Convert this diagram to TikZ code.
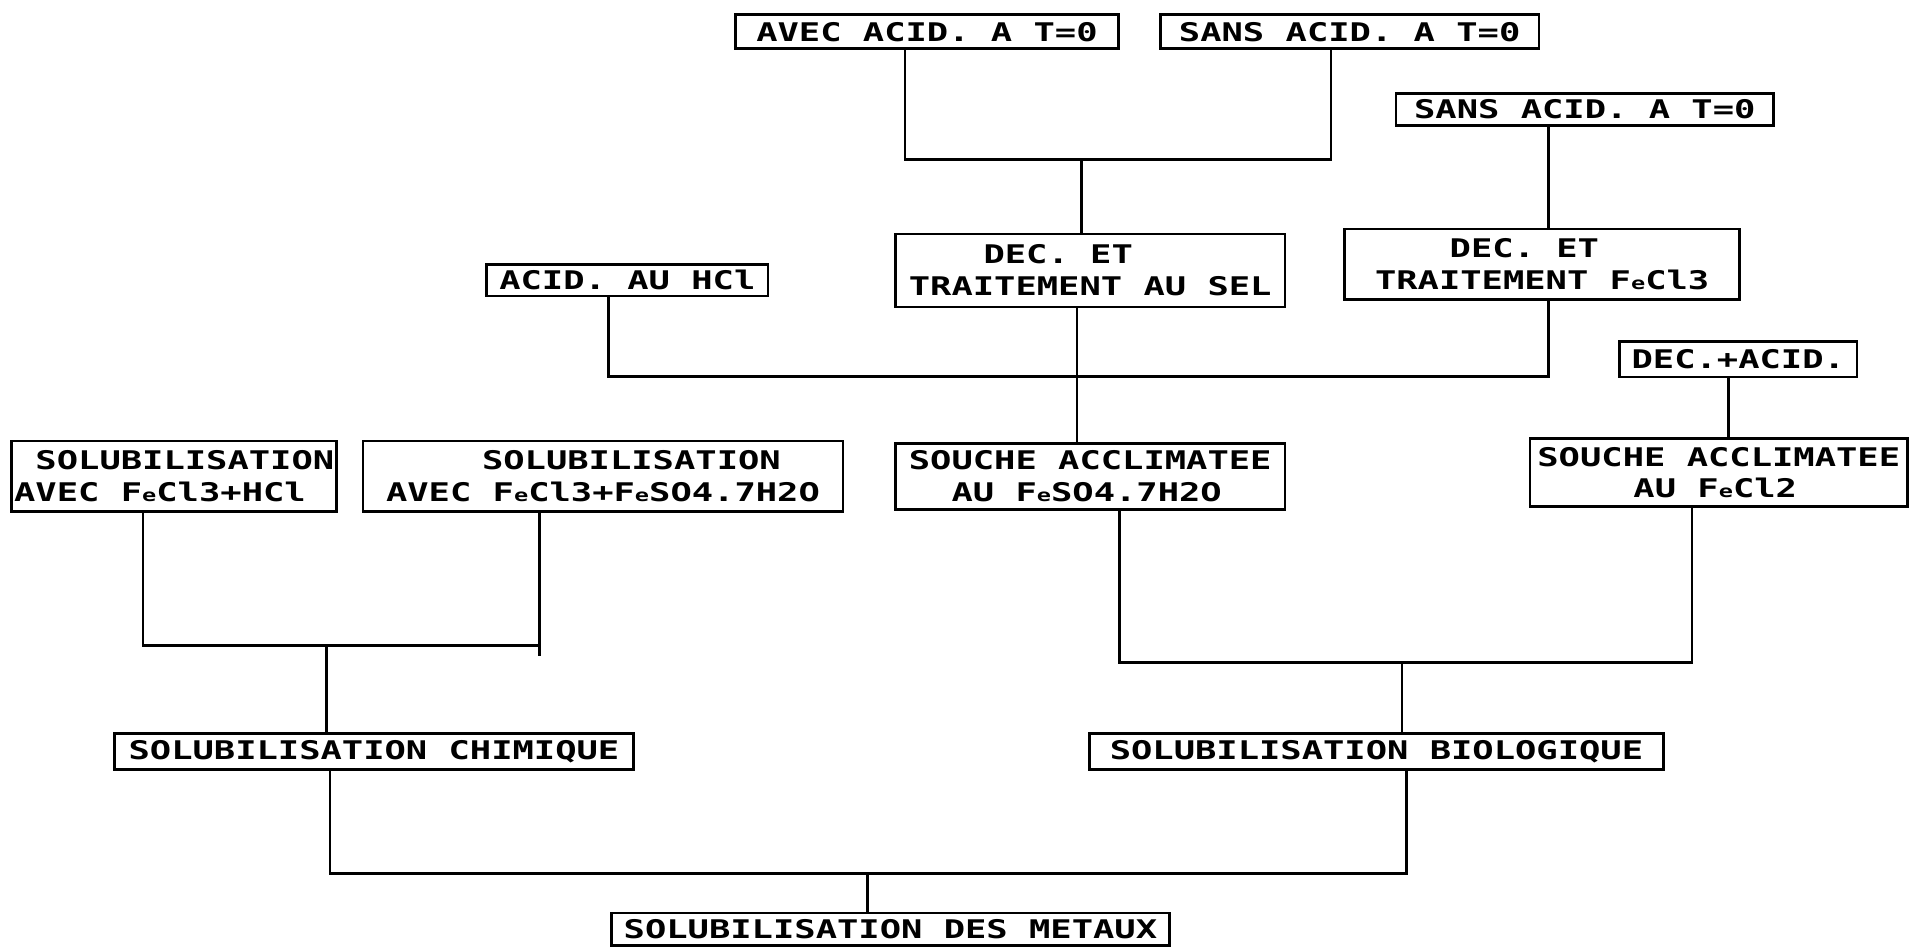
\documentclass[tikz,border=0pt]{standalone}
\usepackage{fontspec}
\newfontfamily\plotfont[FakeStretch=1.38]{DejaVu Sans Mono}
\newcommand\fs{\plotfont\bfseries\fontsize{12}{14.8}\selectfont}
\newlength\cw
\AtBeginDocument{\settowidth\cw{\fs M}}
\newcommand\ind[1]{\hspace*{#1\cw}}
\newcommand\Fe{F{\footnotesize e}}

\begin{document}
\begin{tikzpicture}[x=0.02cm, y=-0.02cm,
    box/.style={draw, line width=1.3pt, inner sep=0pt, font=\fs, align=left},
    link/.style={line width=1.2pt}]
  \useasboundingbox[fill=white] (0,0) rectangle (1568,778);
  % starting states of the sludge
  \node[box, minimum width=6.28cm, minimum height=0.56cm] (avec)  at (761,26)  {AVEC ACID. A T=0};
  \node[box, minimum width=6.22cm, minimum height=0.56cm] (sans1) at (1108,26) {SANS ACID. A T=0};
  \node[box, minimum width=6.2cm,  minimum height=0.52cm] (sans2) at (1301,90) {SANS ACID. A T=0};
  % pre-treatments
  \node[box, minimum width=6.4cm,  minimum height=1.2cm]  (decsel)  at (895,222)  {\ind{3.5}DEC. ET\\TRAITEMENT AU SEL};
  \node[box, minimum width=6.48cm, minimum height=1.16cm] (decfe)   at (1266,217) {\ind{3.5}DEC. ET\\TRAITEMENT \Fe Cl3};
  \node[box, minimum width=4.62cm, minimum height=0.52cm] (acidhcl) at (515,230)  {ACID. AU HCl};
  \node[box, minimum width=3.9cm,  minimum height=0.58cm] (decacid) at (1427,295) {DEC.+ACID.};
  % the four ways
  \node[box, minimum width=5.34cm, minimum height=1.16cm] (solhcl)  at (143,391)  {\ind{1}SOLUBILISATION\\AVEC \Fe Cl3+HCl};
  \node[box, minimum width=7.88cm, minimum height=1.16cm] (solfeso) at (495,391)  {\ind{4.5}SOLUBILISATION\\AVEC \Fe Cl3+\Fe SO4.7H2O};
  \node[box, minimum width=6.4cm,  minimum height=1.08cm] (soufeso) at (895,391)  {SOUCHE ACCLIMATEE\\\ind{2}AU \Fe SO4.7H2O};
  \node[box, minimum width=6.2cm,  minimum height=1.12cm] (soufecl) at (1411,388) {SOUCHE ACCLIMATEE\\\ind{4.5}AU \Fe Cl2};
  % grouping
  \node[box, minimum width=8.52cm, minimum height=0.6cm]  (solchim) at (307,617)  {SOLUBILISATION CHIMIQUE};
  \node[box, minimum width=9.42cm, minimum height=0.6cm]  (solbio)  at (1130,617) {SOLUBILISATION BIOLOGIQUE};
  \node[box, minimum width=9.16cm, minimum height=0.54cm] (solmet)  at (731,763)  {SOLUBILISATION DES METAUX};
  % junctions
  \coordinate (j1) at (888,131);
  \coordinate (j2) at (884,309);
  \coordinate (j3) at (268,530);
  \coordinate (j4) at (1151,544);
  \coordinate (j5) at (712,717);
  \draw[link] ([xshift=-0.36cm]avec.south) |- (j1) -| ([xshift=-0.31cm]sans1.south);
  \draw[link] (j1) -- (j1 |- decsel.north);
  \draw[link] ([xshift=0.1cm]decfe.north) -- ([xshift=0.1cm]decfe.north |- sans2.south);
  \draw[link] ([xshift=-0.31cm]acidhcl.south) |- (j2) -| ([xshift=0.1cm]decfe.south);
  \draw[link] (j2 |- decsel.south) -- (j2 |- soufeso.north);
  \draw[link] ([xshift=0.16cm]soufecl.north) -- ([xshift=0.16cm]soufecl.north |- decacid.south);
  \draw[link] ([xshift=-0.51cm]solhcl.south) |- (j3) -| ([xshift=-1.04cm]solfeso.south);
  \draw[link] ([xshift=-1.04cm]solfeso.south) -- ++(0,117);
  \draw[link] (j3) -- (j3 |- solchim.north);
  \draw[link] ([xshift=0.48cm]soufeso.south) |- (j4) -| ([xshift=-0.44cm]soufecl.south);
  \draw[link] (j4) -- (j4 |- solbio.north);
  \draw[link] ([xshift=-0.72cm]solchim.south) |- (j5) -| ([xshift=0.49cm]solbio.south);
  \draw[link] (j5) -- (j5 |- solmet.north);
\end{tikzpicture}
\end{document}
